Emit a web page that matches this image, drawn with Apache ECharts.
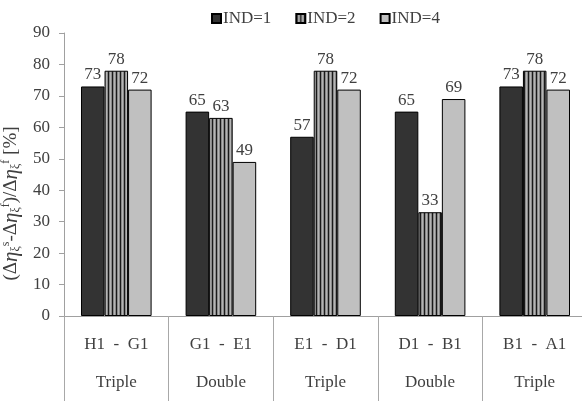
<!DOCTYPE html>
<html><head><meta charset="utf-8">
<script src="https://cdn.jsdelivr.net/npm/echarts@6/dist/echarts.min.js"></script>
<style>html,body{margin:0;padding:0;background:#fff}#c{width:582px;height:405px}</style>
</head><body><div id="c"></div>
<script>
var categories = ['H1  -  G1', 'G1  -  E1', 'E1  -  D1', 'D1  -  B1', 'B1  -  A1'];
var groups = ['Triple', 'Double', 'Triple', 'Double', 'Triple'];
var seriesNames = ['IND=1', 'IND=2', 'IND=4'];
var ind1 = [73, 65, 57, 65, 73];
var ind2 = [78, 63, 78, 33, 78];
var ind4 = [72, 49, 72, 69, 72];
var yTicks = {min: 0, max: 90, interval: 10};

var pc = document.createElement('canvas');
pc.width = 4; pc.height = 4;
var g = pc.getContext('2d');
g.fillStyle = '#8a8a8a'; g.fillRect(0, 0, 4, 4);
g.fillStyle = '#1a1a1a'; g.fillRect(0, 0, 1, 4);
g.fillStyle = '#b5b5b5'; g.fillRect(2, 0, 1, 4);
var stripe = {image: pc, repeat: 'repeat'};

var font = 'Liberation Serif';
var txt = '#404040';
var fs = 17;
var lbl = {show: true, position: 'top', distance: 3, color: txt, fontFamily: font, fontSize: fs};

var chart = echarts.init(document.getElementById('c'));
chart.setOption({
  animation: false,
  textStyle: {fontFamily: font},
  legend: {
    top: 5, left: 206, itemWidth: 9, itemHeight: 9, itemGap: 24,
    icon: 'rect',
    textStyle: {color: txt, fontFamily: font, fontSize: fs, padding: [0, 0, 0, -3]},
    data: seriesNames
  },
  grid: {left: 64, top: 33, bottom: 89, width: 523, outerBoundsMode: 'none', containLabel: false},
  xAxis: {
    type: 'category', data: categories,
    axisLine: {lineStyle: {color: '#a0a0a0', width: 1}},
    axisTick: {show: true, length: 85, lineStyle: {color: '#a8a8a8'}},
    axisLabel: {
      color: txt, fontFamily: font, fontSize: fs, lineHeight: 38, margin: 10,
      formatter: function (v, i) { return v + '\n' + groups[i]; }
    }
  },
  yAxis: {
    type: 'value', min: yTicks.min, max: yTicks.max, interval: yTicks.interval,
    splitLine: {show: false},
    axisLine: {show: true, lineStyle: {color: '#a0a0a0'}},
    axisTick: {show: true, length: 5, lineStyle: {color: '#a0a0a0'}},
    axisLabel: {color: txt, fontFamily: font, fontSize: fs, margin: 14},
    name: '{n|(Δ}{i|η}{sub|ξ}{sup|s}{n|-Δ}{i|η}{sub|ξ}{sup|f}{n|)/Δ}{i|η}{sub|ξ}{sup|f}{n| [%]}',
    nameLocation: 'middle', nameGap: 37, nameRotate: 90,
    nameTextStyle: {
      color: txt, fontFamily: font, fontSize: 19, padding: [0, 58, 0, 0],
      rich: {
        n: {fontSize: 19, color: txt, fontFamily: font},
        i: {fontSize: 21, color: txt, fontFamily: font, fontStyle: 'italic'},
        sub: {fontSize: 12, color: txt, fontFamily: font, verticalAlign: 'bottom', padding: [8, 0, 0, 0]},
        sup: {fontSize: 12, color: txt, fontFamily: font, verticalAlign: 'top', padding: [0, 0, 10, 0]}
      }
    }
  },
  series: [
    {name: seriesNames[0], type: 'bar', data: ind1, barGap: '0%', barCategoryGap: '32.5%',
     itemStyle: {color: '#333333', borderColor: '#000', borderWidth: 1}, label: lbl},
    {name: seriesNames[1], type: 'bar', data: ind2,
     itemStyle: {color: stripe, borderColor: '#000', borderWidth: 1}, label: lbl},
    {name: seriesNames[2], type: 'bar', data: ind4,
     itemStyle: {color: '#c0c0c0', borderColor: '#000', borderWidth: 1}, label: lbl}
  ]
});
</script></body></html>
